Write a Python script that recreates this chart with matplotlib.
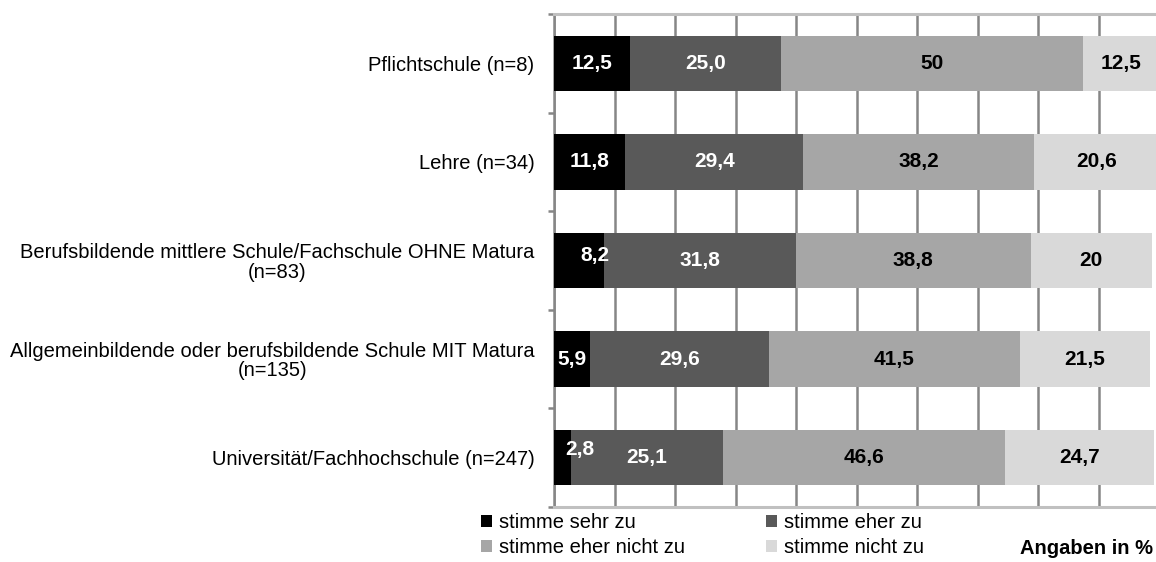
import matplotlib
matplotlib.use("Agg")
import matplotlib.pyplot as plt
import numpy as np

plt.rcParams['font.family'] = ['Liberation Sans', 'DejaVu Sans']

# categories (top to bottom)
categories = [
    'Pflichtschule (n=8)',
    'Lehre (n=34)',
    'Berufsbildende mittlere Schule/Fachschule OHNE Matura\n(n=83)',
    'Allgemeinbildende oder berufsbildende Schule MIT Matura\n(n=135)',
    'Universität/Fachhochschule (n=247)',
]

series_names = ['stimme sehr zu', 'stimme eher zu', 'stimme eher nicht zu', 'stimme nicht zu']

# values in %, ints are shown without decimals
sehr_zu = [12.5, 11.8, 8.2, 5.9, 2.8]
eher_zu = [25.0, 29.4, 31.8, 29.6, 25.1]
eher_nicht_zu = [50, 38.2, 38.8, 41.5, 46.6]
nicht_zu = [12.5, 20.6, 20, 21.5, 24.7]

series = [sehr_zu, eher_zu, eher_nicht_zu, nicht_zu]
colors = ['#000000', '#595959', '#a6a6a6', '#d9d9d9']
text_colors = ['white', 'white', 'black', 'black']

# some labels were moved by hand in the original (pixels: dx, dy)
label_shift = {(2, 0): (16, 5), (4, 0): (17, 8)}

W, H = 1156, 562
fig = plt.figure(figsize=(W / 100, H / 100), dpi=100)
ax = fig.add_axes([554 / W, (H - 507) / H, 605 / W, (507 - 14) / H])

y = np.arange(len(categories))
left = np.zeros(len(categories))
bars = []
for i, vals in enumerate(series):
    b = ax.barh(y, vals, left=left, height=0.56, color=colors[i],
                label=series_names[i], zorder=3)
    bars.append(b)
    for j, v in enumerate(vals):
        txt = str(v) if isinstance(v, int) else f"{v:.1f}".replace('.', ',')
        dx, dy = label_shift.get((j, i), (0, 0))
        ax.annotate(txt, (left[j] + v / 2, y[j]), xytext=(dx, dy),
                    textcoords='offset pixels', ha='center', va='center',
                    color=text_colors[i], fontsize=15, fontweight='bold',
                    zorder=4)
    left = left + np.array(vals, dtype=float)

ax.set_xlim(0, 100)
ax.set_ylim(len(categories) - 0.5, -0.5)

ax.set_xticks(np.arange(0, 101, 10))
ax.tick_params(axis='x', length=0, labelbottom=False)
ax.grid(axis='x', color='#868686', linewidth=1.8, zorder=1)
ax.set_axisbelow(True)

ax.set_yticks(y)
ax.set_yticklabels(categories, fontsize=14.5, multialignment='center',
                   linespacing=1.0)
ax.set_yticks(np.arange(-0.5, len(categories)), minor=True)
ax.tick_params(axis='y', which='major', length=0, pad=14)
ax.tick_params(axis='y', which='minor', length=4, width=1.8, color='#868686')

ax.spines['right'].set_visible(False)
ax.spines['left'].set_color('#868686')
ax.spines['left'].set_linewidth(1.8)
for s in ['top', 'bottom']:
    ax.spines[s].set_color('#c0c0c0')
    ax.spines[s].set_linewidth(2.2)

handles = [bars[0], bars[2], bars[1], bars[3]]
labels = [series_names[0], series_names[2], series_names[1], series_names[3]]
fig.legend(handles, labels, loc='upper left', bbox_to_anchor=(481 / W, (H - 513) / H),
           ncol=2, frameon=False, fontsize=14.5, borderpad=0, borderaxespad=0,
           handlelength=0.55, handleheight=0.55, handletextpad=0.35,
           labelspacing=0.3, columnspacing=4.0)

fig.text(1153 / W, (H - 548) / H, 'Angaben in %', ha='right', va='center',
         fontsize=14.5, fontweight='bold')

fig.savefig('out.png', dpi=100)
